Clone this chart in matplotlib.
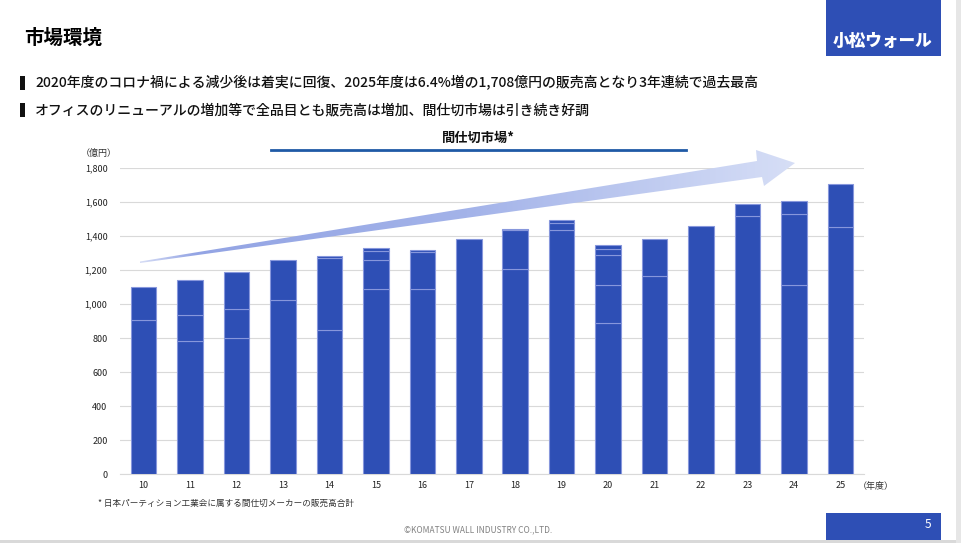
import numpy as np
import matplotlib
matplotlib.use('Agg')
import matplotlib.pyplot as plt
from matplotlib.patches import Polygon, Rectangle
from matplotlib.colors import LinearSegmentedColormap

plt.rcParams['font.family'] = ['Noto Sans CJK JP', 'DejaVu Sans']

#data
years = ['10', '11', '12', '13', '14', '15', '16', '17', '18', '19', '20', '21', '22', '23', '24', '25']
seg1 = [905, 781, 799, 1023, 846, 1087, 1087, 1384, 1205, 1435, 887, 1164, 1457, 1517, 1111, 1453]
seg2 = [194, 153, 171, 237, 424, 171, 216, 0, 228, 43, 224, 218, 0, 71, 418, 255]
seg3 = [0, 205, 218, 0, 14, 53, 14, 0, 8, 16, 177, 0, 0, 0, 77, 0]
seg4 = [0, 0, 0, 0, 0, 20, 0, 0, 0, 0, 35, 0, 0, 0, 0, 0]
seg5 = [0, 0, 0, 0, 0, 0, 0, 0, 0, 0, 24, 0, 0, 0, 0, 0]
yticks = [0, 200, 400, 600, 800, 1000, 1200, 1400, 1600, 1800]

W, H = 961, 543
bar_color = '#2E4FB5'
fig = plt.figure(figsize=(W / 100, H / 100), dpi=100)

#chart axes
ax = fig.add_axes([120 / W, (H - 474) / H, (864 - 120) / W, (474 - 168) / H])
x = np.arange(len(years))
bottom = np.zeros(len(years))
for seg in [seg1, seg2, seg3, seg4, seg5]:
	seg = np.array(seg, dtype=float)
	m = seg > 0
	ax.bar(x[m], seg[m], bottom=bottom[m], width=0.55, color=bar_color,
		edgecolor='#8797DC', linewidth=0.8, zorder=3)
	bottom = bottom + seg
ax.set_xlim(-0.51, len(years) - 0.49)
ax.set_ylim(0, 1800)
ax.set_yticks(yticks)
ax.set_yticklabels(['{:,}'.format(v) for v in yticks])
ax.set_xticks(x)
ax.set_xticklabels(years)
ax.tick_params(axis='both', length=0, labelsize=6.5, colors='#222222')
ax.tick_params(axis='y', pad=9)
ax.tick_params(axis='x', pad=5)
ax.grid(axis='y', color='#D9D9D9', linewidth=0.8, zorder=0)
for s in ['top', 'right', 'left']:
	ax.spines[s].set_visible(False)
ax.spines['bottom'].set_color('#D9D9D9')
ax.patch.set_alpha(0)

#overlay in pixel coords
ov = fig.add_axes([0, 0, 1, 1], zorder=5)
ov.set_xlim(0, W)
ov.set_ylim(H, 0)
ov.axis('off')
ov.patch.set_alpha(0)

#gradient arrow
pts = [(140, 261.5), (757, 161), (756, 150), (795, 163), (764, 186), (762, 177), (140, 263)]
poly = Polygon(pts, closed=True, facecolor='none', edgecolor='none')
ov.add_patch(poly)
cmap = LinearSegmentedColormap.from_list('arr', [(0, '#D4DBF5'), (0.08, '#93A4E4'), (0.5, '#A3B3E9'), (1, '#D6DEF6')])
grad = np.linspace(0, 1, 300).reshape(1, -1)
im = ov.imshow(grad, cmap=cmap, extent=(140, 795, 264, 149), aspect='auto', zorder=2)
im.set_clip_path(poly)
ov.set_xlim(0, W)
ov.set_ylim(H, 0)

#chart title
ov.plot([271, 686], [150, 150], color='#1F5AA6', linewidth=2)
ov.text(478, 138, '間仕切市場*', ha='center', va='center', fontsize=9.5, fontweight='bold', color='#111111')
ov.text(99, 153, '（億円）', ha='center', va='center', fontsize=6.5, color='#333333')
ov.text(876, 486, '（年度）', ha='center', va='center', fontsize=6.5, color='#333333')

#header
ov.text(24, 38, '市場環境', ha='left', va='center', fontsize=14, fontweight='bold', color='#000000')
ov.add_patch(Rectangle((826, 0), 115, 56, facecolor=bar_color, edgecolor='none'))
ov.text(883, 41, '小松ウォール', ha='center', va='center', fontsize=12, fontweight='heavy', color='white')
ov.add_patch(Rectangle((20, 76), 5, 14, facecolor='#111111', edgecolor='none'))
ov.add_patch(Rectangle((20, 103), 5, 14, facecolor='#111111', edgecolor='none'))
ov.text(35, 83, '2020年度のコロナ禍による減少後は着実に回復、2025年度は6.4%増の1,708億円の販売高となり3年連続で過去最高',
	ha='left', va='center', fontsize=10, fontweight='medium', color='#111111')
ov.text(35, 110, 'オフィスのリニューアルの増加等で全品目とも販売高は増加、間仕切市場は引き続き好調',
	ha='left', va='center', fontsize=10, fontweight='medium', color='#111111')

#footer
ov.text(98, 503, '* 日本パーティション工業会に属する間仕切メーカーの販売高合計', ha='left', va='center', fontsize=6.2, color='#333333')
ov.text(478, 530, '©KOMATSU WALL INDUSTRY CO.,LTD.', ha='center', va='center', fontsize=6, color='#808080')
ov.add_patch(Rectangle((826, 513), 115, 27, facecolor=bar_color, edgecolor='none'))
ov.text(928, 525, '5', ha='center', va='center', fontsize=8.5, color='white')
ov.add_patch(Rectangle((0, 540), W, 3, facecolor='#D9D9D9', edgecolor='none'))
ov.add_patch(Rectangle((956, 0), 5, H, facecolor='#E6E6E6', edgecolor='none'))

fig.savefig('out.png', dpi=100)
